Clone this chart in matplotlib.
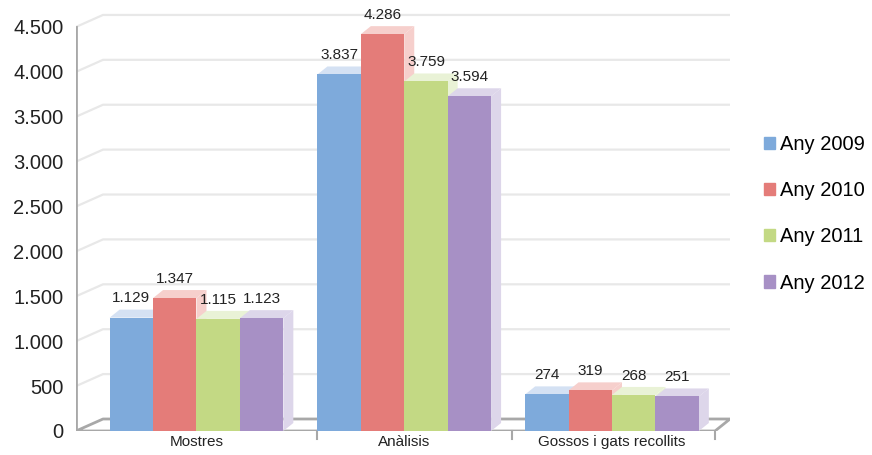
import matplotlib.pyplot as plt
from matplotlib.patches import Polygon, Patch

plt.rcParams['font.family'] = ['Liberation Sans', 'DejaVu Sans']

categories = ['Mostres', 'Anàlisis', 'Gossos i gats recollits']
series_names = ['Any 2009', 'Any 2010', 'Any 2011', 'Any 2012']
any_2009 = [1129, 3837, 274]
any_2010 = [1347, 4286, 319]
any_2011 = [1115, 3759, 268]
any_2012 = [1123, 3594, 251]
yticks = [0, 500, 1000, 1500, 2000, 2500, 3000, 3500, 4000, 4500]

series = [any_2009, any_2010, any_2011, any_2012]
front = ['#7eaadb', '#e47c79', '#c3d984', '#a790c5']
light = ['#d4e1f3', '#f6cfcc', '#e9f2d6', '#ddd6ea']


def fmt(v):
  return '{:,}'.format(v).replace(',', '.')


fig = plt.figure(figsize=(8.72, 4.55), dpi=100)
ax = fig.add_axes([76 / 872, 24 / 455, 654 / 872, 421 / 455])

# pixel scale of the plot (data values live on the back wall plane)
xs = 207.75
ys = 0.08978
x0 = -0.58
xr = 2.568
xf = 2.496
wall_dx = 27 / xs
wall_dy = 12 / ys
bar_dx = 10 / xs
bar_dy = 8 / ys
w = 0.209
fl = -wall_dy  # front floor level

# back wall grid
for v in yticks[1:]:
  ax.plot([x0, x0 + wall_dx, xr], [v + fl, v, v],
          color='#e8e8e8', lw=1.6, zorder=1, solid_capstyle='butt')

# floor
ax.plot([x0, x0 + wall_dx, xr, xf, x0], [fl, 0, 0, fl, fl],
        color='#a8a8a8', lw=2, zorder=1)
ax.plot([x0, x0], [fl, 4500 + fl], color='#a8a8a8', lw=2, zorder=1)
for t in [0.58, 1.519, xf]:
  ax.plot([t, t], [fl, fl - 90], color='#a8a8a8', lw=1.5, clip_on=False)

# bars
for g in range(len(categories)):
  for i, vals in enumerate(series):
    v = vals[g]
    left = g + (i - 2) * w
    right = left + w
    top = Polygon([(left, v), (left + bar_dx, v + bar_dy),
                   (right + bar_dx, v + bar_dy), (right, v)],
                  closed=True, fc=light[i], ec='none', zorder=3)
    side = Polygon([(right, fl), (right + bar_dx, fl + bar_dy),
                    (right + bar_dx, v + bar_dy), (right, v)],
                   closed=True, fc=light[i], ec='none', zorder=3)
    ax.add_patch(side)
    ax.add_patch(top)
    ax.bar(left, v - fl, bottom=fl, width=w, align='edge', color=front[i],
           zorder=3)
    ax.annotate(fmt(v), (left + w / 2, v + bar_dy), xytext=(0, 3),
                textcoords='offset points', ha='center', va='bottom',
                fontsize=11, color='#222222', zorder=5)

ax.set_xlim(x0, xr)
ax.set_ylim(fl, 4555)
for s in ax.spines.values():
  s.set_visible(False)
ax.set_yticks([v + fl for v in yticks])
ax.set_yticklabels([fmt(v) for v in yticks], fontsize=14.5, color='#222222')
ax.set_xticks(range(len(categories)))
ax.set_xticklabels(categories, fontsize=11, color='#222222')
ax.tick_params(axis='y', length=0, pad=9)
ax.tick_params(axis='x', length=0, pad=3)

handles = [Patch(color=front[i], label=series_names[i]) for i in range(4)]
fig.legend(handles=handles, loc='center left', bbox_to_anchor=(0.876, 0.53),
           frameon=False, fontsize=14.5, handlelength=0.55, handleheight=0.55,
           handletextpad=0.25, labelspacing=1.35, borderpad=0,
           borderaxespad=0)

fig.savefig('out.png', dpi=100)
